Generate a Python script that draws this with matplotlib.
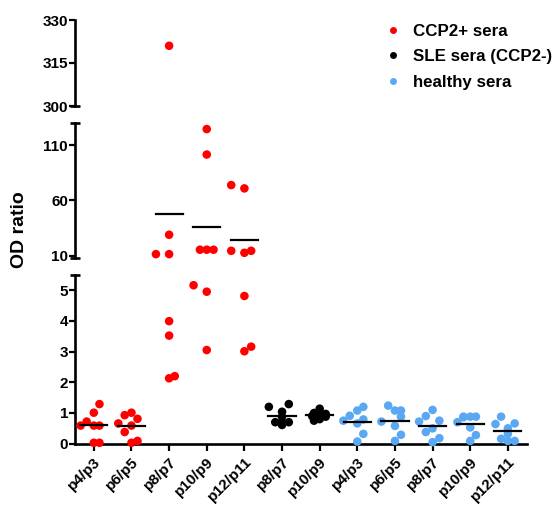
import matplotlib
matplotlib.use("Agg")
import matplotlib.pyplot as plt
from matplotlib.lines import Line2D
import numpy as np

plt.rcParams['font.family'] = ['Liberation Sans', 'DejaVu Sans']
plt.rcParams['font.weight'] = 'bold'

categories = ["p4/p3", "p6/p5", "p8/p7", "p10/p9", "p12/p11",
              "p8/p7", "p10/p9",
              "p4/p3", "p6/p5", "p8/p7", "p10/p9", "p12/p11"]
group_series = ["CCP2+ sera"] * 5 + ["SLE sera (CCP2-)"] * 2 + ["healthy sera"] * 5
series_colors = {"CCP2+ sera": "#ff0000", "SLE sera (CCP2-)": "#000000",
                 "healthy sera": "#5aa8f2"}

values = [
    [0.59, 0.72, 1.01, 1.29, 0.59, 0.59, 0.03, 0.03],
    [0.66, 0.93, 1.01, 0.81, 0.59, 0.38, 0.09, 0.03],
    [321.0, 29.0, 11.5, 11.5, 3.99, 3.52, 2.13, 2.20],
    [124.5, 101.5, 15.5, 15.5, 15.5, 5.16, 4.95, 3.05],
    [73.9, 70.9, 14.5, 12.7, 14.5, 4.81, 3.01, 3.16],
    [1.20, 1.29, 1.04, 0.88, 0.70, 0.70, 0.70, 0.61],
    [1.14, 1.00, 0.97, 0.93, 0.90, 0.88, 0.80, 0.75],
    [1.20, 1.08, 0.91, 0.75, 0.79, 0.66, 0.32, 0.07],
    [1.24, 1.08, 1.08, 0.88, 0.72, 0.58, 0.29, 0.09],
    [1.10, 0.90, 0.75, 0.72, 0.50, 0.38, 0.18, 0.05],
    [0.70, 0.88, 0.88, 0.88, 0.53, 0.28, 0.09, 0.86],
    [0.88, 0.64, 0.66, 0.50, 0.32, 0.16, 0.09, 0.09],
]
# horizontal scatter offsets (category units) as drawn in the reference
offsets = [
    [-0.35, -0.19, 0.0, 0.15, 0.0, 0.15, 0.0, 0.15],
    [-0.35, -0.18, 0.0, 0.16, 0.0, -0.18, 0.16, 0.0],
    [0.0, 0.0, -0.35, 0.0, 0.0, 0.0, 0.0, 0.15],
    [0.0, 0.0, -0.18, 0.0, 0.18, -0.35, 0.0, 0.0],
    [-0.35, 0.0, -0.35, 0.0, 0.18, 0.0, 0.0, 0.18],
    [-0.35, 0.18, 0.0, 0.0, -0.18, 0.0, 0.18, 0.0],
    [0.0, -0.15, 0.16, 0.0, -0.2, 0.16, 0.0, -0.15],
    [0.16, 0.0, -0.2, -0.37, 0.16, 0.0, 0.16, 0.0],
    [-0.18, 0.0, 0.16, 0.16, -0.36, 0.0, 0.16, 0.0],
    [0.0, -0.18, 0.18, -0.36, 0.0, -0.18, 0.18, 0.0],
    [-0.34, -0.18, 0.0, 0.15, 0.0, 0.15, 0.0, -0.18],
    [-0.18, -0.33, 0.18, 0.0, 0.0, -0.18, 0.0, 0.18],
]

top_ticks = [300, 315, 330]
mid_ticks = [10, 60, 110]
bot_ticks = [0, 1, 2, 3, 4, 5]

W, H = 558, 508
fig = plt.figure(figsize=(W / 100, H / 100), dpi=100)

def fbox(top_px, bot_px):
    left = 75 / W
    width = (526.7 - 75) / W
    return [left, 1 - bot_px / H, width, (bot_px - top_px) / H]

ax_top = fig.add_axes(fbox(20, 106))
ax_mid = fig.add_axes(fbox(123, 258))
ax_bot = fig.add_axes(fbox(274.8, 443.7))

lw_sp = 1.9
for ax, lim, ticks in [(ax_top, (300, 330), top_ticks),
                       (ax_mid, (8, 130), mid_ticks),
                       (ax_bot, (0, 5.5), bot_ticks)]:
    for i in range(len(categories)):
        c = series_colors[group_series[i]]
        v = np.array(values[i])
        xs = i + np.array(offsets[i])
        keep = (v >= lim[0]) & (v <= lim[1])
        if keep.any():
            ax.scatter(xs[keep], v[keep], s=38, color=c, edgecolors='none', zorder=3,
                       clip_on=False)
        m = np.mean(v)
        if lim[0] <= m <= lim[1]:
            ax.plot([i - 0.36, i + 0.36], [m, m], color='black', lw=1.6, zorder=4)
    ax.set_xlim(-0.5, 11.5)
    ax.set_ylim(*lim)
    ax.set_yticks(ticks)
    ax.set_yticklabels([str(t) for t in ticks], fontsize=11, fontweight='bold')
    for s in ['top', 'right', 'bottom']:
        ax.spines[s].set_visible(False)
    ax.spines['left'].set_linewidth(lw_sp)
    ax.tick_params(axis='y', length=4, width=1.6, pad=1)
    ax.patch.set_alpha(0)

for ax in (ax_top, ax_mid):
    ax.set_xticks([])

ax_bot.spines['bottom'].set_visible(True)
ax_bot.spines['bottom'].set_linewidth(lw_sp)
ax_bot.set_xticks(np.arange(len(categories)))
ax_bot.set_xticklabels(categories, rotation=45, ha='right', rotation_mode='anchor',
                       fontsize=11, fontweight='bold')
ax_bot.tick_params(axis='x', length=5, width=1.6, pad=3)

# break caps on spine ends
def cap(ax, y):
    ax.plot([-0.012, 0.012], [y, y], transform=ax.transAxes, color='black',
            lw=lw_sp, clip_on=False, solid_capstyle='butt')
cap(ax_top, 0)
cap(ax_mid, 1)
cap(ax_mid, 0)
cap(ax_bot, 1)

fig.text(20 / W, 1 - 230 / H, "OD ratio", rotation=90, ha='center', va='center',
         fontsize=14, fontweight='bold')

handles = [Line2D([], [], marker='o', ls='none', color=series_colors[k], markersize=5,
                  markeredgewidth=0, label=k) for k in series_colors]
leg = fig.legend(handles=handles, loc='upper left',
                 bbox_to_anchor=(385 / W, 1 - 23.5 / H), bbox_transform=fig.transFigure,
                 frameon=False, prop={'weight': 'bold', 'size': 12.2},
                 handlelength=0.9, handletextpad=0.75, labelspacing=0.62,
                 borderpad=0, borderaxespad=0)

fig.savefig("out.png", dpi=100)
